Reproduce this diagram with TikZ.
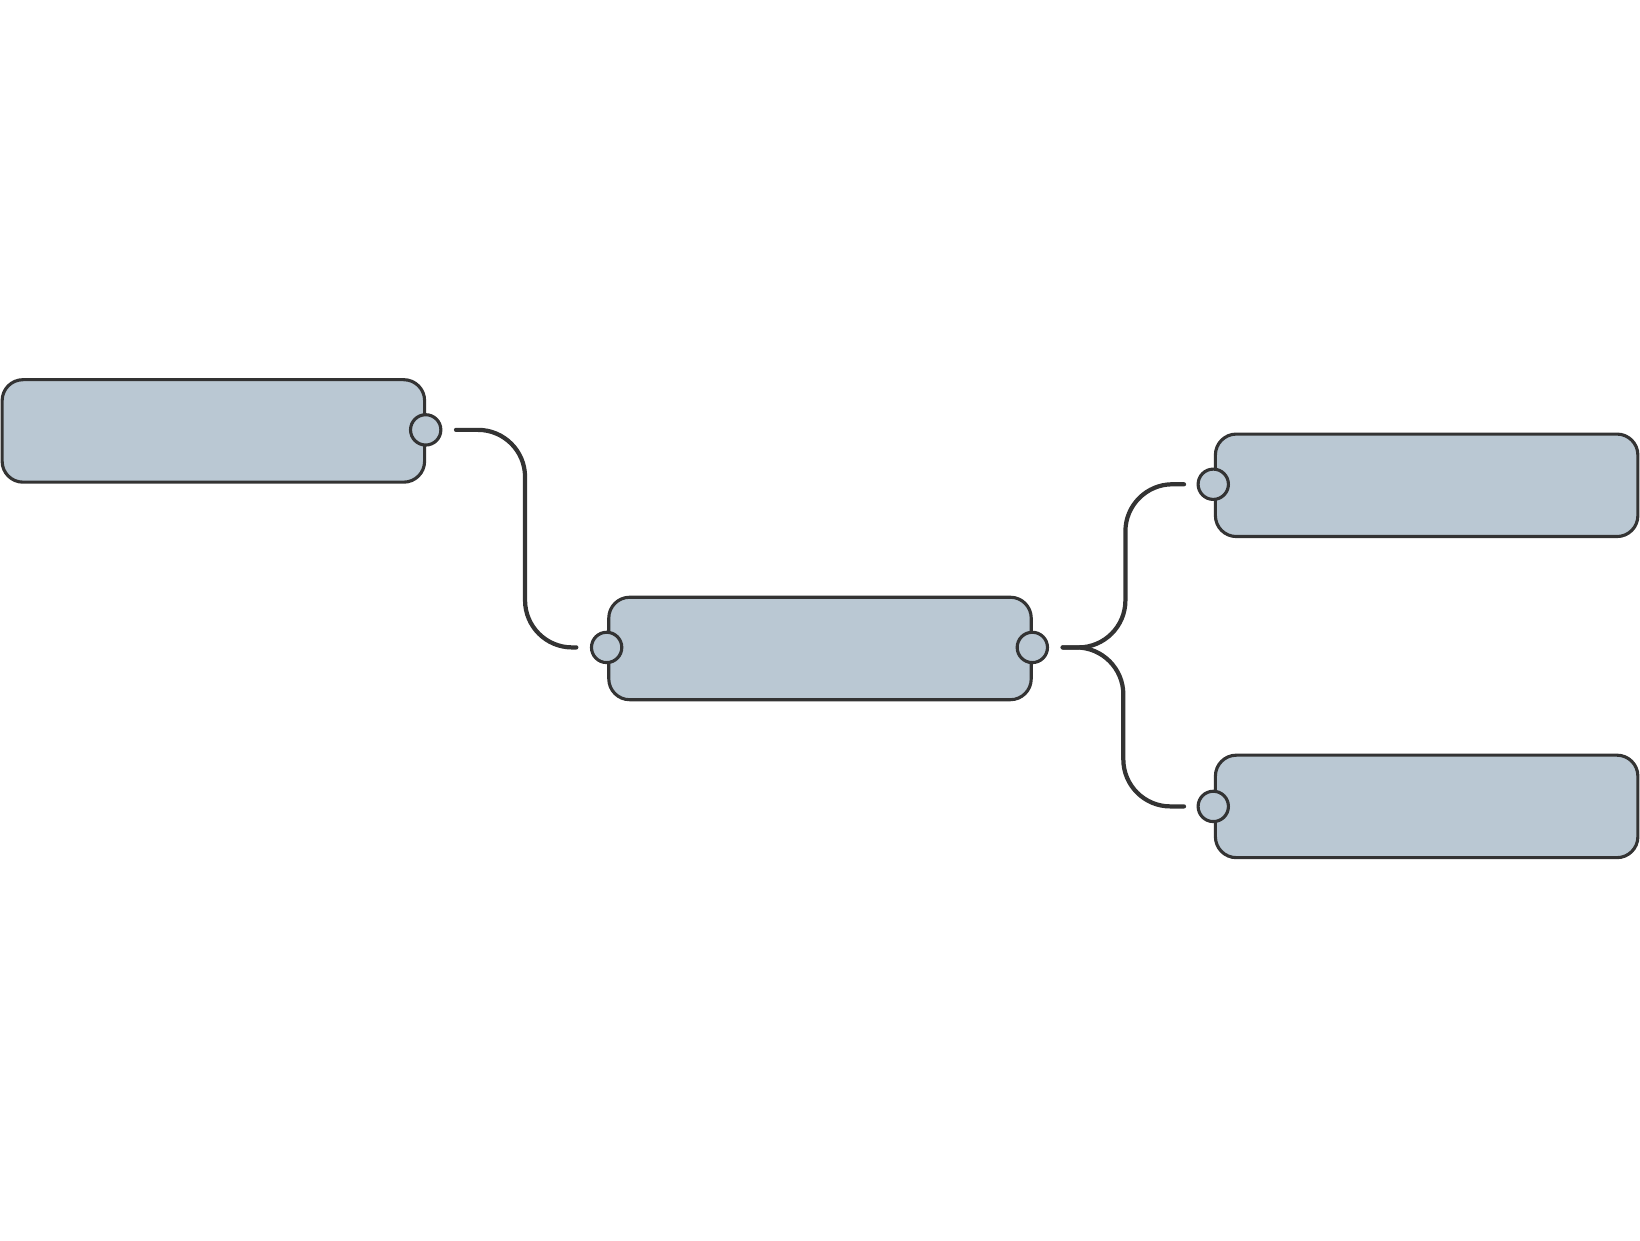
\documentclass[tikz,border=0pt]{standalone}
\begin{document}
\begin{tikzpicture}[x=0.02cm,y=-0.02cm,
  box/.style={draw=ln,fill=bx,line width=1.7pt,rounded corners=0.4cm,minimum width=8.08cm,minimum height=1.96cm,inner sep=0},
  port/.style={circle,draw=ln,fill=bx,line width=1.7pt,minimum size=0.58cm,inner sep=0},
  conn/.style={draw=ln,line width=2.3pt,line cap=round,rounded corners=0.9cm}]
\definecolor{bx}{HTML}{BAC8D3}
\definecolor{ln}{HTML}{333333}
\useasboundingbox (0,0) rectangle (1568,1186);
\node[box] (A) at (204,412) {};
\node[box] (B) at (784,620) {};
\node[box] (C) at (1364,464) {};
\node[box] (D) at (1364,771) {};
\node[port] (pA) at (407,411) {};
\node[port] (pB1) at (580,619) {};
\node[port] (pB2) at (987,619) {};
\node[port] (pC) at (1160,463) {};
\node[port] (pD) at (1160,771) {};
\draw[conn] ([xshift=0.58cm]pA.center) -- (502,411) -- (502,619) -- ([xshift=-0.58cm]pB1.center);
\draw[conn] ([xshift=0.58cm]pB2.center) -- (1076,619) -- (1076,463) -- ([xshift=-0.56cm]pC.center);
\draw[conn] ([xshift=0.58cm]pB2.center) -- (1074,619) -- (1074,771) -- ([xshift=-0.56cm]pD.center);
\end{tikzpicture}
\end{document}
